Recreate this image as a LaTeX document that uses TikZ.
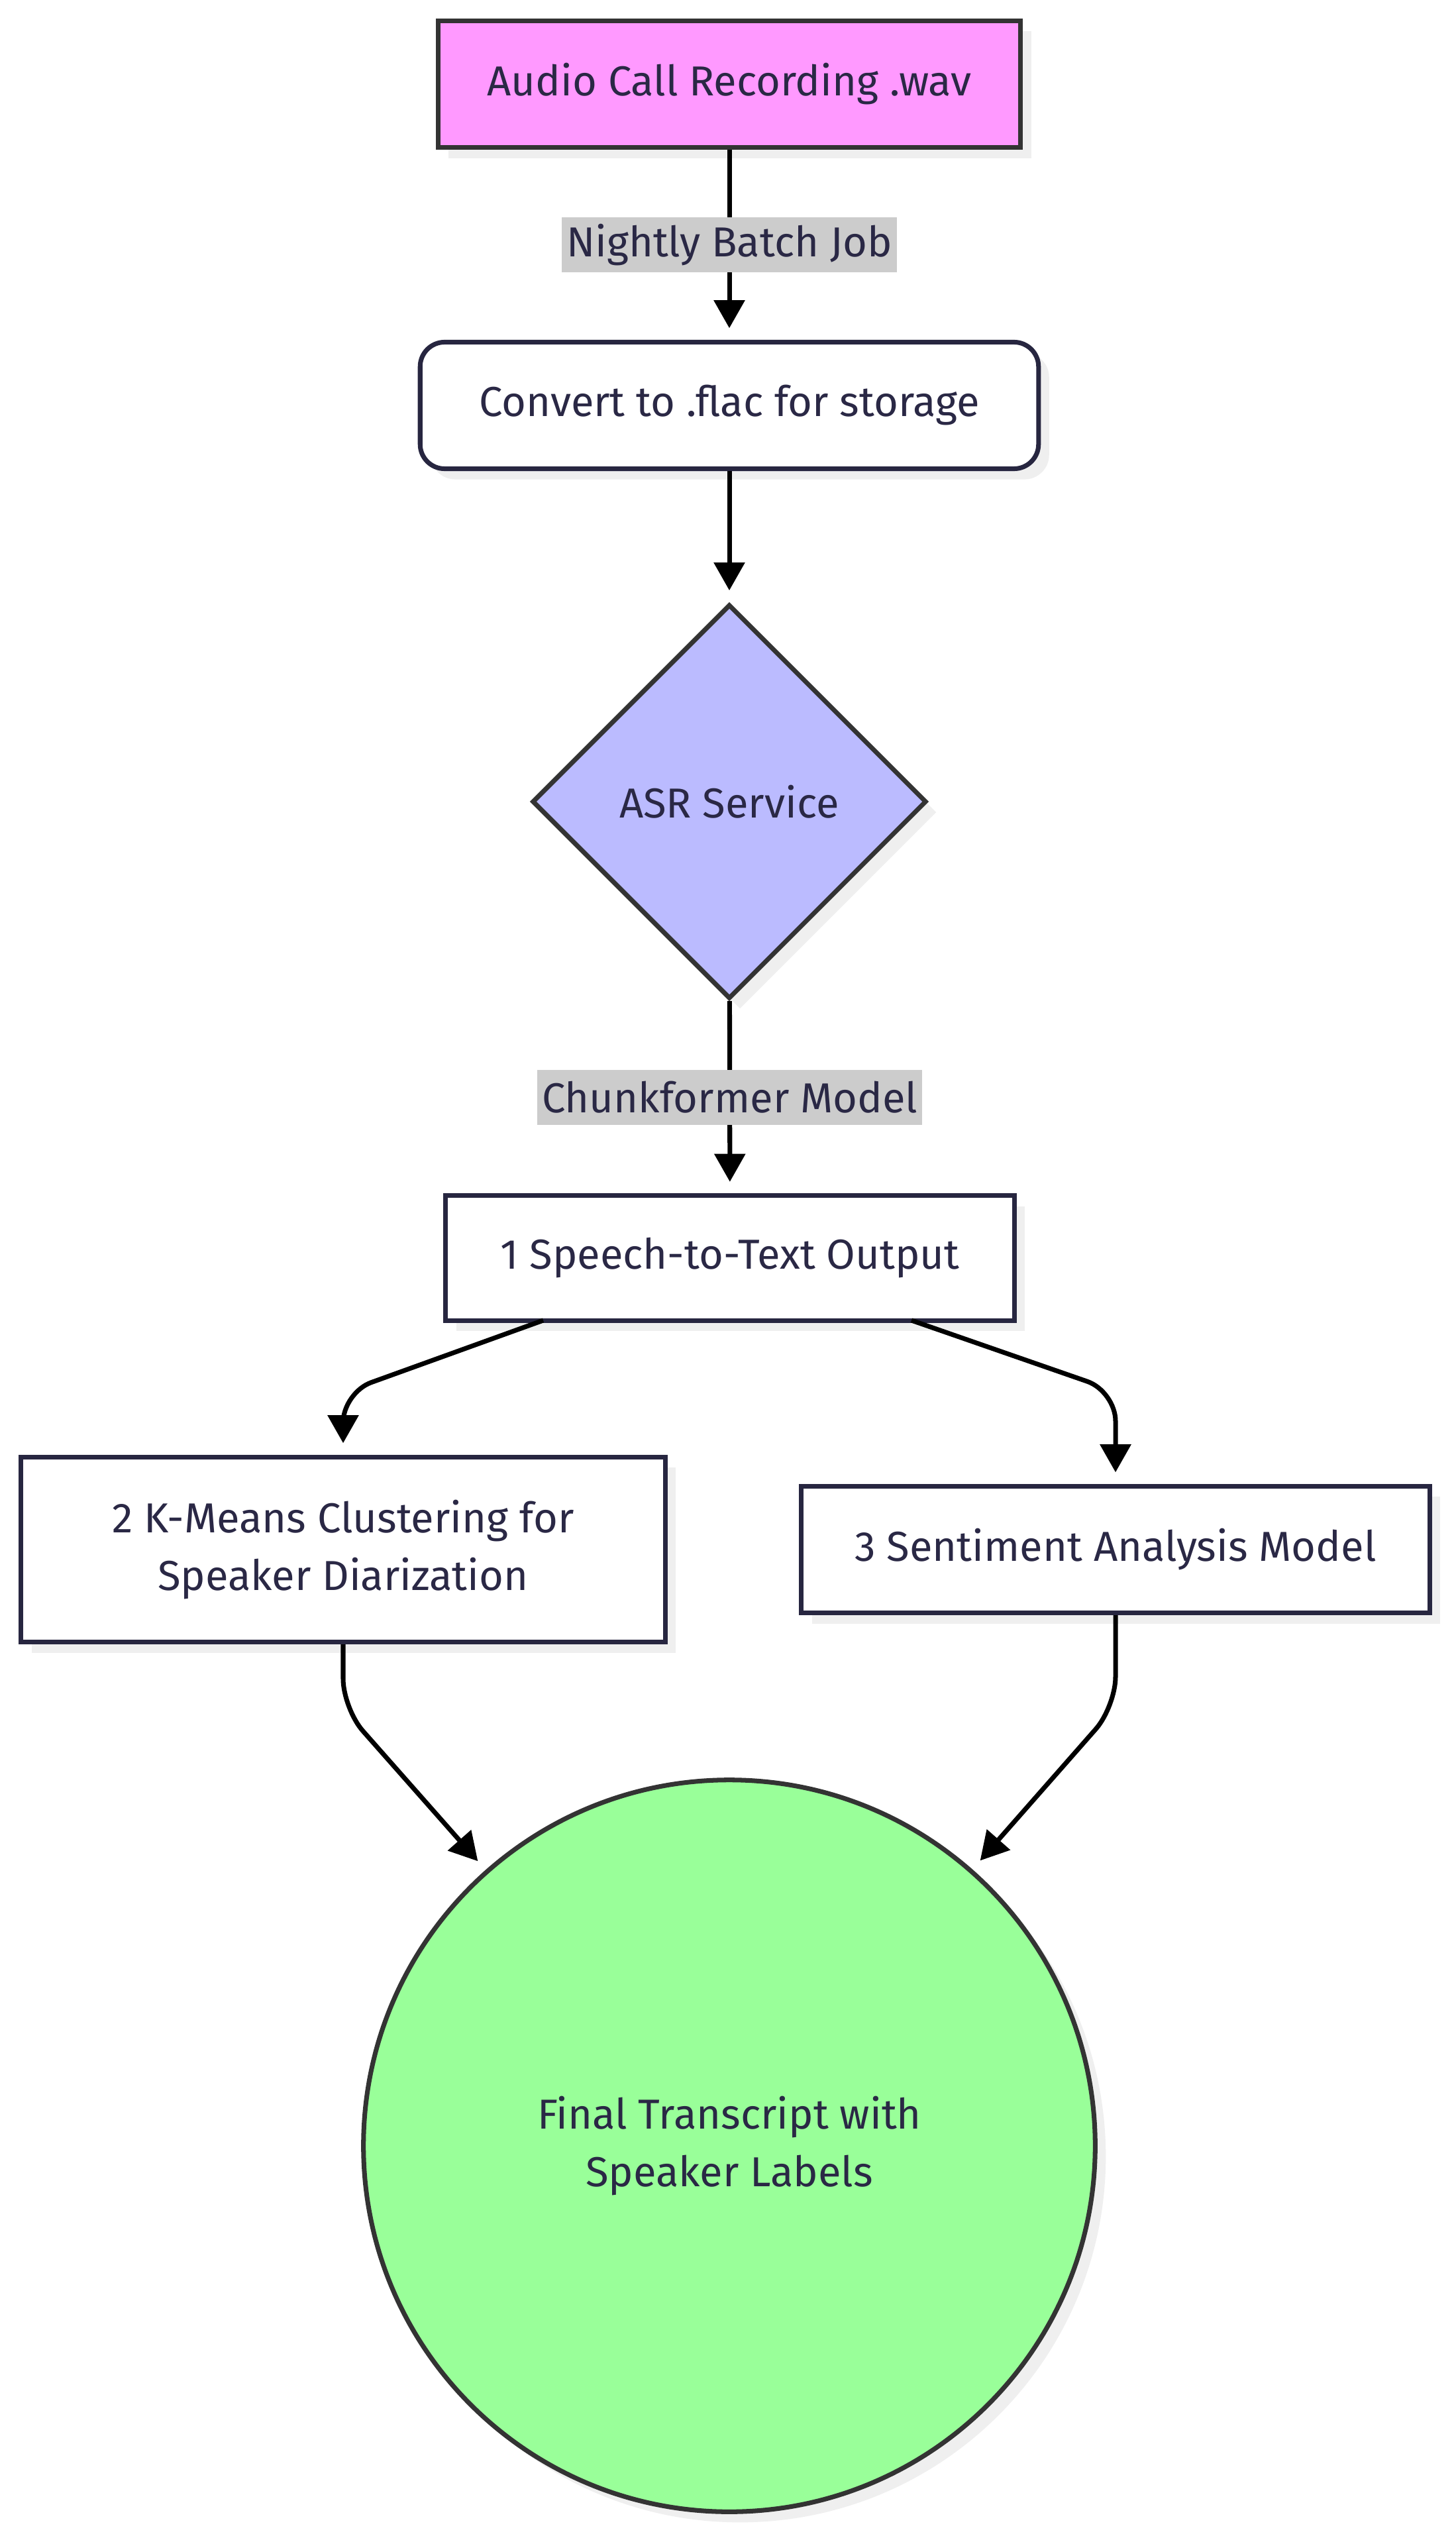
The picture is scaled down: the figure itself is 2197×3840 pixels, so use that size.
\documentclass[tikz,border=0pt]{standalone}
\usepackage{fontspec}
\setmainfont{Fira Sans}
\usetikzlibrary{shapes.geometric,arrows.meta,shadows}
\definecolor{txt}{HTML}{2A2845}
\definecolor{navy}{HTML}{272640}
\definecolor{dgray}{HTML}{333333}
\definecolor{pinkf}{HTML}{FF99FF}
\definecolor{bluef}{HTML}{BBBBFF}
\definecolor{greenf}{HTML}{99FF99}
\definecolor{lblf}{HTML}{CCCCCC}
\definecolor{shad}{HTML}{EFEFEF}
\tikzset{
  every node/.style={font=\fontsize{18}{24.5}\selectfont, text=txt},
  sh/.style={general shadow={shadow xshift=0.16cm, shadow yshift=-0.16cm, fill=shad}},
  boxa/.style={rectangle, draw=dgray, line width=2pt, fill=pinkf, minimum width=8.79cm, minimum height=1.91cm, sh},
  rbox/.style={rectangle, rounded corners=0.37cm, draw=navy, line width=2pt, fill=white, minimum width=9.33cm, minimum height=1.91cm, sh},
  sbox/.style={rectangle, draw=navy, line width=2pt, fill=white, minimum height=1.91cm, sh},
  dia/.style={diamond, aspect=1, draw=dgray, line width=2pt, fill=bluef, minimum width=5.95cm, minimum height=5.95cm, inner sep=0pt, sh},
  circ/.style={circle, draw=dgray, line width=2pt, fill=greenf, minimum size=11.04cm, inner sep=0pt, sh},
  lbl/.style={sharp corners, fill=lblf, inner sep=2pt, minimum height=0.83cm},
  conn/.style={draw=black, line width=2pt, -{Triangle[length=12pt,width=13pt]}, shorten >=5pt, rounded corners=0.45cm}
}
\begin{document}
\begin{tikzpicture}[x=0.01cm,y=-0.01cm]
\useasboundingbox (0,0) rectangle (2197,3840);
\node[boxa] (A) at (1101,127) {Audio Call Recording .wav};
\node[rbox] (B) at (1101,612) {Convert to .flac for storage};
\node[dia] (S) at (1101,1210) {ASR Service};
\node[sbox, minimum width=8.58cm, minimum height=1.88cm] (C) at (1102,1899) {1 Speech-to-Text Output};
\node[sbox, minimum width=9.72cm, minimum height=2.79cm, align=center] (D) at (518,2339) {2 K-Means Clustering for\\Speaker Diarization};
\node[sbox, minimum width=9.48cm] (E) at (1684,2339) {3 Sentiment Analysis Model};
\node[circ, align=center] (F) at (1101,3239) {Final Transcript with\\Speaker Labels};
\coordinate (cd1) at (820,1993);
\coordinate (cd2) at (518,2102);
\coordinate (ce1) at (1376,1993);
\coordinate (ce2) at (1684,2100);
\coordinate (df) at (518,2579);
\coordinate (ef) at (1684,2576);
\draw[conn] (A) -- node[lbl] (L1) {Nightly Batch Job} (B);
\draw[conn] (B) -- (S);
\draw[conn] (S) -- node[lbl] (L2) {Chunkformer Model} (C);
\draw[conn] (cd1) -- (cd2) -- (D.north);
\draw[conn] (ce1) -- (ce2) -- (E.north);
\draw[conn] (D.south) -- (df) -- (F);
\draw[conn] (E.south) -- (ef) -- (F);
\end{tikzpicture}
\end{document}
